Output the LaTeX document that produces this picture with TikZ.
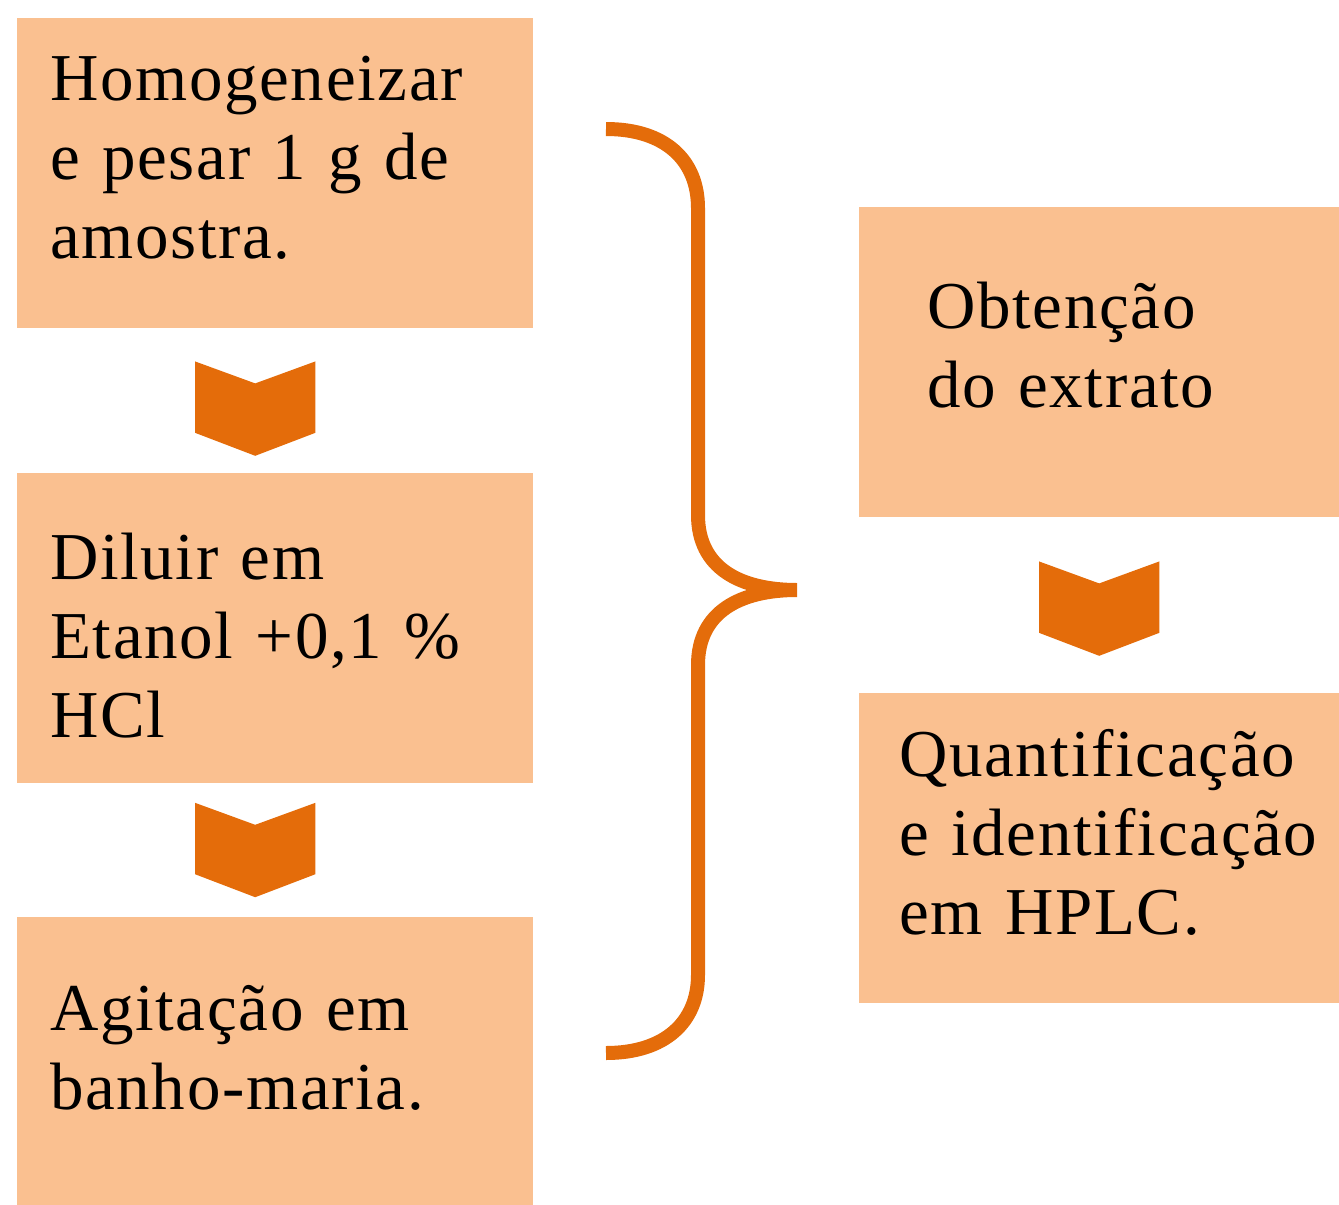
\documentclass[tikz,border=0pt]{standalone}
\usepackage{fontspec}
\usepackage{tikz}
\usetikzlibrary{positioning}
\newfontfamily\boxfont[LetterSpace=2.5]{Liberation Serif}
\definecolor{boxfill}{HTML}{FAC090}
\definecolor{darkorange}{HTML}{E46C0A}
\tikzset{main box/.style={rectangle, fill=boxfill, minimum width=516pt, minimum height=310pt, inner sep=0pt},
  chevron node/.style={rectangle, minimum width=120pt, minimum height=94pt, inner sep=0pt},
  box text/.style={font=\boxfont\fontsize{67}{79}\selectfont, text width=470pt, align=left, inner sep=0pt, anchor=north west},}

\begin{document}
\begin{tikzpicture}[x=1pt,y=-1pt]
        \useasboundingbox (0,0) rectangle (1339,1205);
        % Nodes
        \node[main box, anchor=north west] (box1) at (17,18) {};
        \node[chevron node] [below = 33pt of box1, xshift=-20pt] (chev1) {};
        \node[main box] [below = 144pt of box1] (box2) {};
        \node[chevron node] [below = 20pt of box2, xshift=-20pt] (chev2) {};
        \node[main box, minimum height=288pt] [below = 134pt of box2] (box3) {};
        \node[main box, minimum width=480pt, anchor=north west] (box4) at (859,207) {};
        \node[chevron node] [below = 44pt of box4] (chev3) {};
        \node[main box, minimum width=480pt] [below = 175pt of box4] (box5) {};
        % Texts
        \node[box text, text height=82pt] (txt1) at ([xshift=33pt]box1.north west) {Homogeneizar\\ e pesar 1 g de\\ amostra.};
        \node[box text, text height=107pt] (txt2) at ([xshift=33pt]box2.north west) {Diluir em\\ Etanol +0,1 \%\\ HCl};
        \node[box text, text height=113pt] (txt3) at ([xshift=33pt]box3.north west) {Agitação em\\ banho-maria.};
        \node[box text, text height=121pt] (txt4) at ([xshift=68pt]box4.north west) {Obtenção\\ do extrato};
        \node[box text, text height=84pt] (txt5) at ([xshift=40pt]box5.north west) {Quantificação\\ e identificação\\ em HPLC.};
        % Chevrons
        \foreach \c in {chev1,chev2,chev3}
          \fill[darkorange] (\c.north west) -- ([yshift=-22pt]\c.north) -- (\c.north east)
            -- ([yshift=23pt]\c.south east) -- (\c.south) -- ([yshift=23pt]\c.south west) -- cycle;
        % Paths
        \draw[darkorange, line width=14pt]
        (606,129) .. controls (665,129) and (698,160) .. (698,208)
        -- (698,515) .. controls (698,568) and (740,590) .. (797,590)
        .. controls (740,590) and (698,612) .. (698,665)
        -- (698,975) .. controls (698,1022) and (665,1053) .. (606,1053);
\end{tikzpicture}
\end{document}
